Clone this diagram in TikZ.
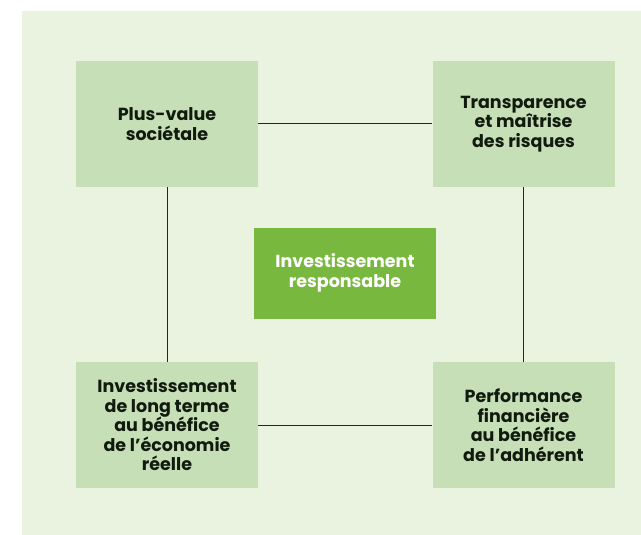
\documentclass[tikz,border=0pt]{standalone}
\usepackage{fontspec}
\setmainfont{Poppins}[UprightFont=* Bold]
\definecolor{panel}{HTML}{EAF3DF}
\definecolor{boxg}{HTML}{C6DFB6}
\definecolor{centerg}{HTML}{78B83E}
\definecolor{txt}{HTML}{111A0E}
\begin{document}
\begin{tikzpicture}[x=1pt,y=-1pt,
  pillar/.style={fill=boxg,draw=none,minimum width=182pt,minimum height=126pt,inner sep=0pt,
    align=center,text=txt,font=\fontsize{17.5}{19.5}\selectfont},
  core/.style={fill=centerg,draw=none,minimum width=182pt,minimum height=91pt,inner sep=0pt,
    align=center,text=white,font=\fontsize{17.5}{19.5}\selectfont},
  link/.style={draw=black!85,line width=1pt}]
\useasboundingbox (0,0) rectangle (641,535);
\fill[panel] (22,11) rectangle (641,535);
\node[pillar] (tl) at (167,124) {Plus-value\\sociétale};
\node[pillar] (tr) at (523.5,124) {Transparence\\et maîtrise\\des risques};
\node[pillar] (bl) at (167,425) {Investissement\\de long terme\\au bénéfice\\de l’économie\\réelle};
\node[pillar] (br) at (523.5,425) {Performance\\financière\\au bénéfice\\de l’adhérent};
\node[core] (c) at (345,273) {Investissement\\responsable};
\draw[link] (tl.east) -- (tr.west);
\draw[link] (bl.east) -- (br.west);
\draw[link] (tl.south) -- (bl.north);
\draw[link] (tr.south) -- (br.north);
\end{tikzpicture}
\end{document}
